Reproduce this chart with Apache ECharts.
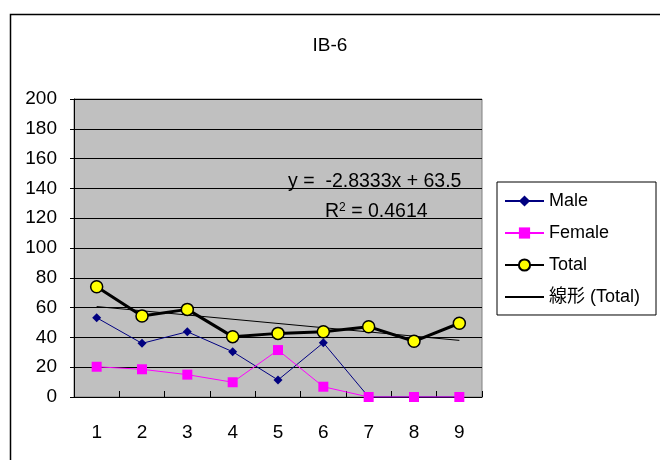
<!DOCTYPE html>
<html><head><meta charset="utf-8">
<script src="https://cdn.jsdelivr.net/npm/echarts@6/dist/echarts.min.js"></script>
<style>html,body{margin:0;padding:0;background:#fff}#c{width:660px;height:460px}</style>
</head><body><div id="c"></div>
<script>
const categories = ['1','2','3','4','5','6','7','8','9'];
const maleValues = [53.2, 36, 43.8, 30.4, 11.4, 36.4, 0, 0, 0];
const femaleValues = [20.3, 18.6, 15, 9.9, 31.5, 6.9, 0, 0, 0];
const totalValues = [74, 54.4, 58.8, 40.5, 42.7, 43.8, 47.2, 37.4, 49.5];
const trendPoints = [[0, 60.7], [8, 38.0]];
const yTicks = [0, 200, 20];
const FONT = '"Liberation Sans", Arial, "Noto Sans CJK JP", sans-serif';

const chart = echarts.init(document.getElementById('c'), null, {renderer: 'canvas'});
chart.setOption({
  backgroundColor: '#ffffff',
  animation: false,
  textStyle: {fontFamily: FONT},
  title: {text: 'IB-6', left: 'center', top: 31, textStyle: {fontFamily: FONT, fontSize: 19, fontWeight: 'normal', color: '#000'}},
  grid: {left: 74, right: 178, top: 99, bottom: 63, show: true, backgroundColor: '#c0c0c0', borderColor: '#808080', borderWidth: 1},
  legend: {
    orient: 'vertical', left: 497, top: 182, width: 158,
    padding: [10, 16, 9, 7], itemGap: 14, itemWidth: 39, itemHeight: 14,
    borderColor: '#000', borderWidth: 1, backgroundColor: '#fff',
    textStyle: {fontFamily: FONT, fontSize: 18, color: '#000'},
    data: ['Male', 'Female', 'Total', {name: '線形 (Total)', itemStyle: {opacity: 0}}]
  },
  xAxis: {
    type: 'category', data: categories, boundaryGap: true,
    axisLine: {lineStyle: {color: '#000', width: 1}},
    axisTick: {show: true, inside: true, length: 6, lineStyle: {color: '#000'}},
    axisLabel: {fontSize: 19, color: '#000', margin: 26, fontFamily: FONT},
    splitLine: {show: false}
  },
  yAxis: {
    type: 'value', min: yTicks[0], max: yTicks[1], interval: yTicks[2],
    axisLine: {show: true, lineStyle: {color: '#000', width: 1}},
    axisTick: {show: true, length: 4, lineStyle: {color: '#000'}},
    axisLabel: {fontSize: 19, color: '#000', margin: 17, fontFamily: FONT},
    splitLine: {show: true, lineStyle: {color: '#000', width: 1}}
  },
  series: [
    {name: '線形 (Total)', type: 'line', data: trendPoints, symbol: 'none', z: 1,
     lineStyle: {color: '#000', width: 1}, itemStyle: {color: '#000'}},
    {name: 'Male', type: 'line', data: maleValues, symbol: 'diamond', symbolSize: 9, z: 2,
     lineStyle: {color: '#000080', width: 1}, itemStyle: {color: '#000080'}},
    {name: 'Female', type: 'line', data: femaleValues, symbol: 'rect', symbolSize: 10, z: 3,
     lineStyle: {color: '#ff00ff', width: 1}, itemStyle: {color: '#ff00ff'}},
    {name: 'Total', type: 'line', data: totalValues, symbol: 'circle', symbolSize: 12, z: 4,
     lineStyle: {color: '#000', width: 3}, itemStyle: {color: '#ffff00', borderColor: '#000', borderWidth: 1.5}}
  ],
  graphic: [
    {type: 'rect', left: 8, top: 12, z: -10, silent: true,
     shape: {width: 700, height: 500}, style: {fill: 'none', stroke: '#000', lineWidth: 1.5}},
    {type: 'text', left: 288, top: 172, z: 10, style: {text: 'y =  -2.8333x + 63.5', font: '19.5px ' + FONT, fill: '#000'}},
    {type: 'text', left: 325, top: 202, z: 10, style: {
      text: '{a|R}{s|2}{a| = 0.4614}',
      rich: {a: {fontSize: 19.5, fontFamily: FONT, color: '#000'},
             s: {fontSize: 12, fontFamily: FONT, color: '#000', verticalAlign: 'top', padding: [0, 0, 8, 0]}}
    }}
  ]
});
</script></body></html>
